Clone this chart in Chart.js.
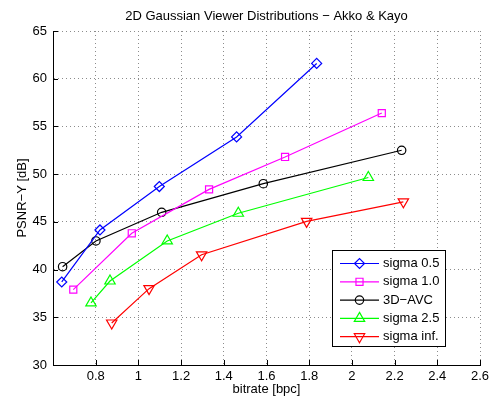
<!DOCTYPE html>
<html>
<head>
<meta charset="utf-8">
<script src="https://cdn.jsdelivr.net/npm/chart.js@4/dist/chart.umd.min.js"></script>
<style>
  html, body { margin: 0; padding: 0; background: #fff; }
</style>
</head>
<body>
<canvas id="psnrChart" width="496" height="401"></canvas>
<script>
// values
const seriesNames = ['sigma 0.5', 'sigma 1.0', '3D\u2212AVC', 'sigma 2.5', 'sigma inf.'];

const sigma05Rate = [0.641, 0.820, 1.098, 1.460, 1.835];
const sigma05Psnr = [38.7, 44.15, 48.7, 53.9, 61.6];

const sigma10Rate = [0.695, 0.969, 1.331, 1.687, 2.140];
const sigma10Psnr = [37.9, 43.8, 48.4, 51.8, 56.4];

const avcRate = [0.645, 0.801, 1.109, 1.585, 2.233];
const avcPsnr = [40.3, 43.0, 46.0, 49.0, 52.5];

const sigma25Rate = [0.778, 0.867, 1.135, 1.468, 2.077];
const sigma25Psnr = [36.5, 38.8, 43.0, 45.9, 49.65];

const sigmaInfRate = [0.875, 1.050, 1.296, 1.788, 2.241];
const sigmaInfPsnr = [34.4, 38.0, 41.55, 45.05, 47.1];

const xTicks = [0.8, 1, 1.2, 1.4, 1.6, 1.8, 2, 2.2, 2.4, 2.6];
const yTicks = [30, 35, 40, 45, 50, 55, 60, 65];

const font = { family: '"Liberation Sans", Arial, Helvetica, sans-serif', size: 13 };
const fontStr = '13px "Liberation Sans", Arial, Helvetica, sans-serif';

function pts(xs, ys) {
  return xs.map((x, i) => ({ x: x, y: ys[i] }));
}

function series(label, xs, ys, color, style, radius, rotation) {
  return {
    label: label,
    data: pts(xs, ys),
    borderColor: color,
    backgroundColor: 'rgba(0,0,0,0)',
    borderWidth: 1.2,
    pointStyle: style,
    pointRadius: radius,
    pointRotation: rotation || 0,
    pointBorderWidth: 1.2,
    pointBorderColor: color,
    pointBackgroundColor: 'rgba(0,0,0,0)',
    tension: 0,
    fill: false
  };
}

// hollow marker for the legend box
function legendMarker(ctx, style, r, rot, cx, cy) {
  ctx.beginPath();
  if (style === 'rectRot') {
    ctx.moveTo(cx - r, cy); ctx.lineTo(cx, cy - r); ctx.lineTo(cx + r, cy); ctx.lineTo(cx, cy + r);
    ctx.closePath();
  } else if (style === 'rect') {
    const s = r * Math.SQRT1_2;
    ctx.rect(cx - s, cy - s, 2 * s, 2 * s);
  } else if (style === 'circle') {
    ctx.arc(cx, cy, r, 0, Math.PI * 2);
  } else if (style === 'triangle') {
    const d = rot ? -1 : 1;
    ctx.moveTo(cx, cy - d * r);
    ctx.lineTo(cx + r * 0.866, cy + d * r / 2);
    ctx.lineTo(cx - r * 0.866, cy + d * r / 2);
    ctx.closePath();
  }
  ctx.stroke();
}

// title, inward ticks and the boxed legend, matlab style
const matlabLook = {
  id: 'matlabLook',
  afterDraw(chart) {
    const { ctx, chartArea, scales } = chart;
    const x = scales.x, y = scales.y;
    ctx.save();

    ctx.fillStyle = '#000';
    ctx.font = fontStr;
    ctx.textAlign = 'center';
    ctx.textBaseline = 'middle';
    ctx.fillText('2D Gaussian Viewer Distributions \u2212 Akko & Kayo', (chartArea.left + chartArea.right) / 2, 16);

    ctx.strokeStyle = '#000';
    ctx.lineWidth = 1;
    ctx.beginPath();
    x.ticks.forEach(t => {
      const px = Math.round(x.getPixelForValue(t.value)) + 0.5;
      ctx.moveTo(px, chartArea.bottom);
      ctx.lineTo(px, chartArea.bottom - 5);
    });
    y.ticks.forEach(t => {
      const py = Math.round(y.getPixelForValue(t.value)) + 0.5;
      ctx.moveTo(chartArea.left, py);
      ctx.lineTo(chartArea.left + 5, py);
    });
    ctx.stroke();

    // legend
    const bx = 332.5, by = 250.5, bw = 113, bh = 96;
    ctx.fillStyle = '#fff';
    ctx.fillRect(bx, by, bw, bh);
    ctx.strokeStyle = '#000';
    ctx.strokeRect(bx, by, bw, bh);
    chart.data.datasets.forEach((ds, i) => {
      const ly = 263.5 + i * 18.3;
      ctx.strokeStyle = ds.borderColor;
      ctx.lineWidth = 1.2;
      ctx.beginPath();
      ctx.moveTo(340, ly);
      ctx.lineTo(379, ly);
      ctx.stroke();
      legendMarker(ctx, ds.pointStyle, ds.pointRadius, ds.pointRotation, 359.5, ly);
      ctx.fillStyle = '#000';
      ctx.textAlign = 'left';
      ctx.fillText(ds.label, 383, ly);
    });
    ctx.restore();
  }
};

new Chart(document.getElementById('psnrChart').getContext('2d'), {
  type: 'line',
  data: {
    datasets: [
      series(seriesNames[0], sigma05Rate, sigma05Psnr, '#0000ff', 'rectRot', 5),
      series(seriesNames[1], sigma10Rate, sigma10Psnr, '#ff00ff', 'rect', 5),
      series(seriesNames[2], avcRate, avcPsnr, '#000000', 'circle', 4.2),
      series(seriesNames[3], sigma25Rate, sigma25Psnr, '#00ff00', 'triangle', 6),
      series(seriesNames[4], sigmaInfRate, sigmaInfPsnr, '#ff0000', 'triangle', 6, 180)
    ]
  },
  options: {
    responsive: false,
    animation: false,
    devicePixelRatio: 1,
    layout: { padding: { top: 31, right: 16, left: 0, bottom: 0 } },
    plugins: {
      legend: { display: false },
      title: { display: false },
      tooltip: { enabled: false }
    },
    scales: {
      x: {
        type: 'linear',
        min: 0.6,
        max: 2.6,
        afterBuildTicks: s => { s.ticks = xTicks.map(v => ({ value: v })); },
        afterFit: s => { s.height = 36; },
        grid: { color: '#8c8c8c', drawTicks: false },
        border: { color: '#000', width: 1, dash: [1, 3] },
        ticks: { padding: 4, color: '#000', font: font, maxRotation: 0, callback: v => String(v) },
        title: { display: true, text: 'bitrate [bpc]', color: '#000', font: font, padding: { top: 0, bottom: 4 } }
      },
      y: {
        type: 'linear',
        min: 30,
        max: 65,
        afterBuildTicks: s => { s.ticks = yTicks.map(v => ({ value: v })); },
        afterFit: s => { s.width = 53; },
        grid: { color: '#8c8c8c', drawTicks: false },
        border: { color: '#000', width: 1, dash: [1, 3] },
        ticks: { padding: 6, color: '#000', font: font, callback: v => String(v) },
        title: { display: true, text: 'PSNR\u2212Y [dB]', color: '#000', font: font, padding: { top: 15, bottom: 0 } }
      }
    }
  },
  plugins: [matlabLook]
});
</script>
</body>
</html>
